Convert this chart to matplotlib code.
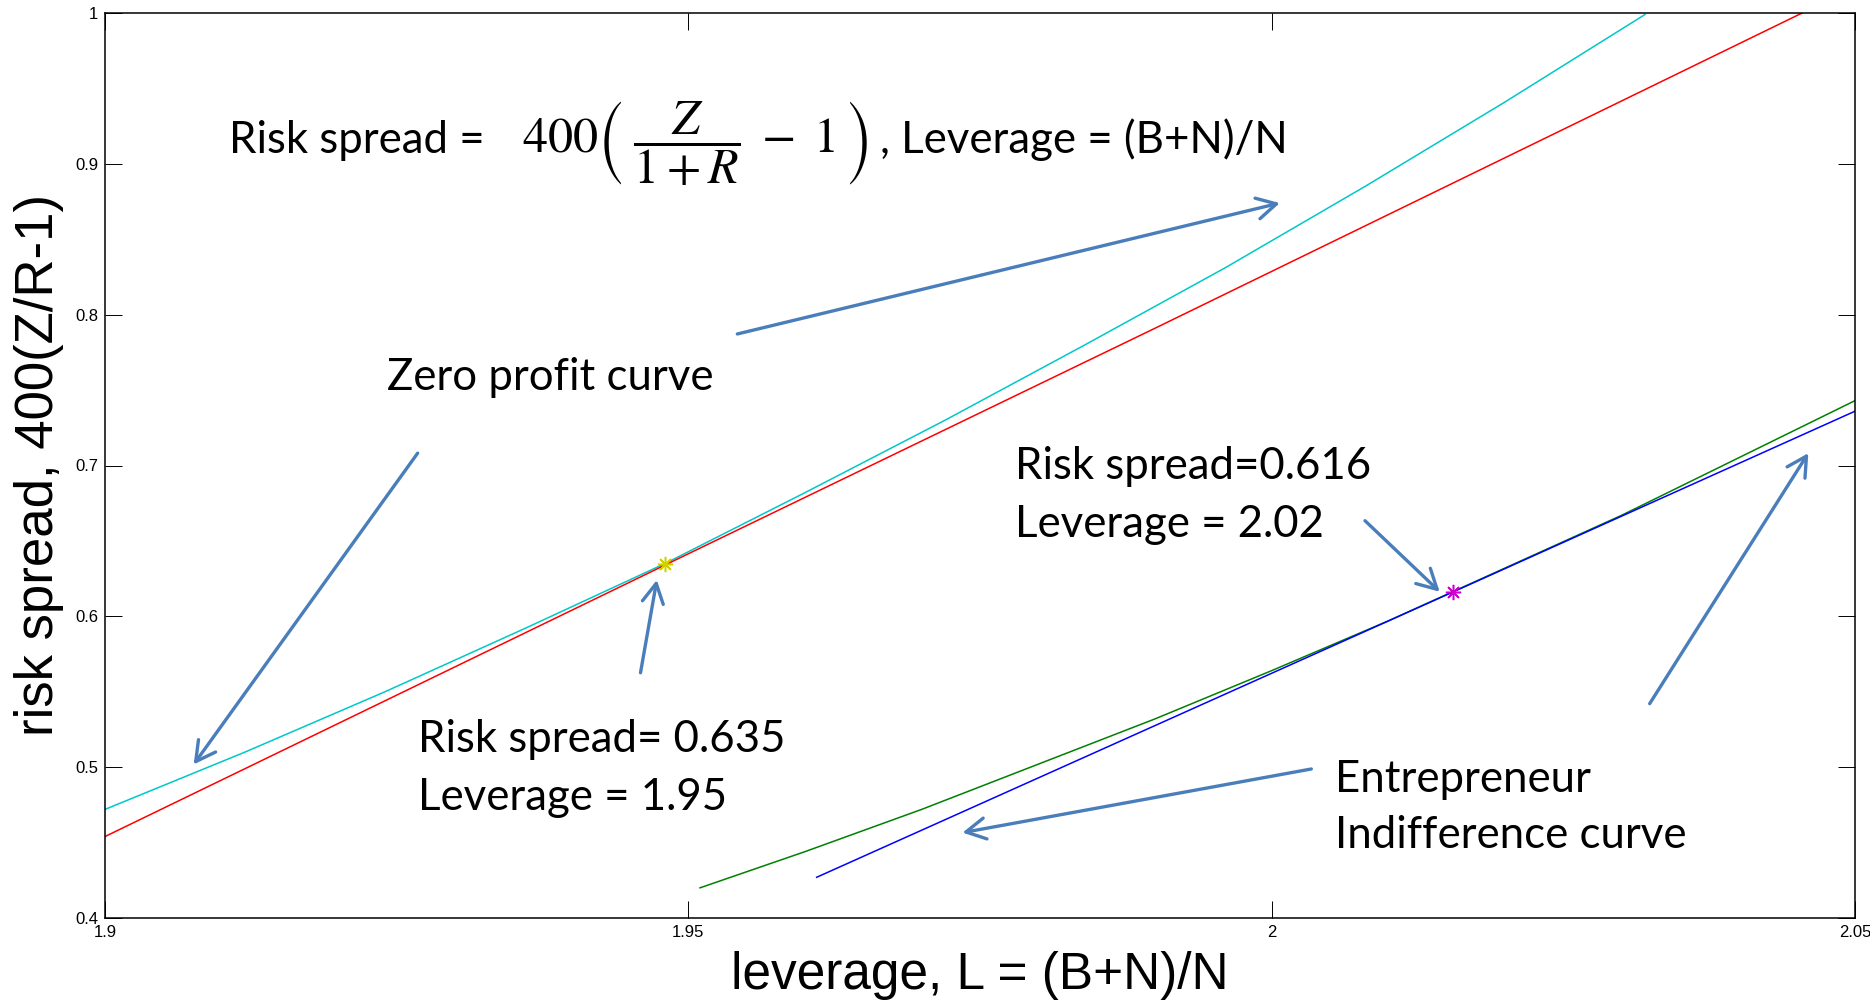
import matplotlib
matplotlib.use("Agg")
import matplotlib.pyplot as plt

# curves
cyan_x = [1.900, 1.912, 1.924, 1.936, 1.948, 1.960, 1.972, 1.984, 1.996, 2.008, 2.020, 2.032]
cyan_y = [0.472, 0.510, 0.550, 0.592, 0.635, 0.682, 0.730, 0.780, 0.831, 0.885, 0.941, 0.999]
red_x = [1.900, 1.948, 1.990, 2.046]
red_y = [0.454, 0.634, 0.791, 1.002]
green_x = [1.951, 1.960, 1.970, 1.980, 1.990, 2.000, 2.010, 2.020, 2.030, 2.040, 2.050]
green_y = [0.420, 0.444, 0.472, 0.502, 0.532, 0.564, 0.597, 0.632, 0.667, 0.705, 0.743]
blue_x = [1.961, 2.0155, 2.050]
blue_y = [0.427, 0.616, 0.736]

# tangency points
bank_pt = (1.948, 0.635)
entr_pt = (2.0155, 0.616)

xticks = [1.9, 1.95, 2.0, 2.05]
xticklabels = ["1.9", "1.95", "2", "2.05"]
yticks = [0.4, 0.5, 0.6, 0.7, 0.8, 0.9, 1.0]
yticklabels = ["0.4", "0.5", "0.6", "0.7", "0.8", "0.9", "1"]

# annotation arrows: (tail, head) in data units
arrows = [
    ((1.9542, 0.7872), (2.0007, 0.8740)),
    ((1.9268, 0.7082), (1.9076, 0.5018)),
    ((1.9459, 0.5626), (1.9473, 0.6241)),
    ((2.0080, 0.6634), (2.0144, 0.6163)),
    ((2.0034, 0.4988), (1.9735, 0.4566)),
    ((2.0324, 0.5421), (2.0460, 0.7082)),
]

notes = [
    (1.9242, 0.7501, "Zero profit curve"),
    (1.9780, 0.6910, "Risk spread=0.616"),
    (1.9780, 0.6528, "Leverage = 2.02"),
    (1.9268, 0.5103, "Risk spread= 0.635"),
    (1.9268, 0.4716, "Leverage = 1.95"),
    (2.0054, 0.4837, "Entrepreneur"),
    (2.0054, 0.4462, "Indifference curve"),
]

txt_font = ["Lato", "DejaVu Sans"]
ax_font = ["Liberation Sans", "DejaVu Sans"]
arrow_col = "#4a7ebb"
fs = 31.5

fig = plt.figure(figsize=(18.7, 10.06), dpi=100)
ax = fig.add_axes([105 / 1870, 1 - 918 / 1006, 1750 / 1870, 905 / 1006])

ax.plot(cyan_x, cyan_y, color="#00c8c8", lw=1.1)
ax.plot(red_x, red_y, color="#ff0000", lw=1.1)
ax.plot(green_x, green_y, color="#008000", lw=1.1)
ax.plot(blue_x, blue_y, color="#0000ff", lw=1.1)
ax.plot(*bank_pt, marker=(8, 2, 0), color="#d0d000", ms=11, mew=1.1)
ax.plot(*entr_pt, marker=(8, 2, 0), color="#cc00cc", ms=11, mew=1.1)

for tail, head in arrows:
    ax.annotate("", xy=head, xytext=tail,
                arrowprops=dict(arrowstyle="->,head_length=0.7,head_width=0.38",
                                color=arrow_col, lw=2.4, mutation_scale=20,
                                shrinkA=0, shrinkB=0))

for x, y, s in notes:
    ax.text(x, y, s, fontsize=fs, family=txt_font, va="baseline", ha="left")

# formula line
ax.text(1.9106, 0.9072, "Risk spread =", fontsize=fs, family=txt_font, va="baseline")
ax.text(1.9357, 0.9072, r"$400\left(\;\dfrac{Z}{1+R}\;-\;1\,\right)$", fontsize=36,
        math_fontfamily="stix", va="baseline")
ax.text(1.9664, 0.9072, ", Leverage = (B+N)/N", fontsize=fs, family=txt_font, va="baseline")

ax.set_xlim(1.9, 2.05)
ax.set_ylim(0.4, 1.0)
ax.set_xticks(xticks)
ax.set_xticklabels(xticklabels)
ax.set_yticks(yticks)
ax.set_yticklabels(yticklabels)
ax.tick_params(direction="in", length=12, width=0.7, top=True, right=True,
               labelsize=12, pad=5)
for lab in ax.get_xticklabels() + ax.get_yticklabels():
    lab.set_family(ax_font)
for sp in ax.spines.values():
    sp.set_linewidth(1.1)

ax.set_xlabel("leverage, L = (B+N)/N", fontsize=37, family=ax_font, labelpad=8)
ax.set_ylabel("risk spread, 400(Z/R-1)", fontsize=38, family=ax_font, labelpad=8)

fig.savefig("out.png", dpi=100)
